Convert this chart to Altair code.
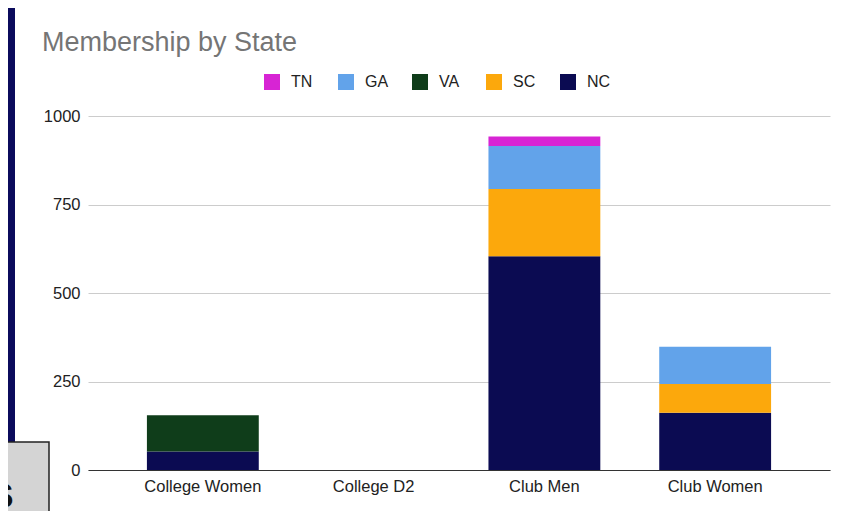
import altair as alt
import pandas as pd

categories = ["College Women", "College D2", "Club Men", "Club Women"]
states = ["TN", "GA", "VA", "SC", "NC"]          # legend order
stack_order = ["NC", "SC", "VA", "GA", "TN"]     # bottom -> top
colors = ["#d724d4", "#62a3ea", "#0f3d1a", "#fca80c", "#0b0b52"]

nc = [52, 0, 604, 162]
sc = [0, 0, 190, 81]
va = [103, 0, 0, 0]
ga = [0, 0, 121, 105]
tn = [0, 0, 27, 0]

y_ticks = [0, 250, 500, 750, 1000]

series = {"NC": nc, "SC": sc, "VA": va, "GA": ga, "TN": tn}
rows = []
for st, vals in series.items():
    for cat, v in zip(categories, vals):
        if v > 0:
            rows.append({"category": cat, "state": st, "members": v,
                         "rank": stack_order.index(st)})
df = pd.DataFrame(rows)

FONT = "Liberation Sans"

bars = alt.Chart(df).mark_bar(stroke=None).encode(
    x=alt.X("category:N", sort=categories,
            scale=alt.Scale(domain=categories, paddingInner=0.345, paddingOuter=0.345),
            axis=alt.Axis(title=None, labelAngle=0, ticks=False, domain=True,
                          domainColor="#333333", domainWidth=1, labelFontSize=16.5,
                          labelColor="#222222", labelPadding=8, labelFont=FONT)),
    y=alt.Y("sum(members):Q", stack="zero",
            scale=alt.Scale(domain=[0, 1000], nice=False),
            axis=alt.Axis(title=None, values=y_ticks, format="d", ticks=False, domain=False,
                          grid=True, gridColor="#cccccc", labelFontSize=16.5,
                          labelColor="#222222", labelPadding=8, labelFont=FONT)),
    color=alt.Color("state:N", scale=alt.Scale(domain=states, range=colors),
                    legend=alt.Legend(title=None, orient="none", legendX=176, legendY=-42,
                                      direction="horizontal", columns=5, gridAlign="all",
                                      symbolType="square",
                                      symbolSize=256, symbolStrokeWidth=0,
                                      labelFontSize=16, labelColor="#222222",
                                      labelFont=FONT, labelOffset=11, columnPadding=23)),
    order=alt.Order("rank:Q", sort="ascending"),
)

one = pd.DataFrame({"a": [0]})
strip = alt.Chart(one).mark_rect(color="#0b0b5c").encode(
    x=alt.value(-80), x2=alt.value(-73), y=alt.value(-108), y2=alt.value(326))
box = alt.Chart(one).mark_rect(fill="#d4d4d4", stroke="#222222", strokeWidth=1.5).encode(
    x=alt.value(-81), x2=alt.value(-39), y=alt.value(326), y2=alt.value(400))
letter = alt.Chart(one).mark_text(text="s", font=FONT, fontWeight="bold", fontSize=46,
                                  align="right", baseline="alphabetic", color="#111111").encode(
    x=alt.value(-74), y=alt.value(392))

chart = alt.layer(strip, box, letter, bars).properties(
    width=742, height=354,
    autosize=alt.AutoSizeParams(type="none"),
    padding={"left": 80, "top": 108, "right": 20, "bottom": 41},
    title=alt.TitleParams("Membership by State", anchor="start", frame="group",
                          fontSize=27, color="#757575", font=FONT, fontWeight="normal",
                          baseline="alphabetic", dx=-46, dy=70, offset=0),
).configure_view(stroke=None)

chart.save("out.html", embed_options={"renderer": "svg", "actions": False})
